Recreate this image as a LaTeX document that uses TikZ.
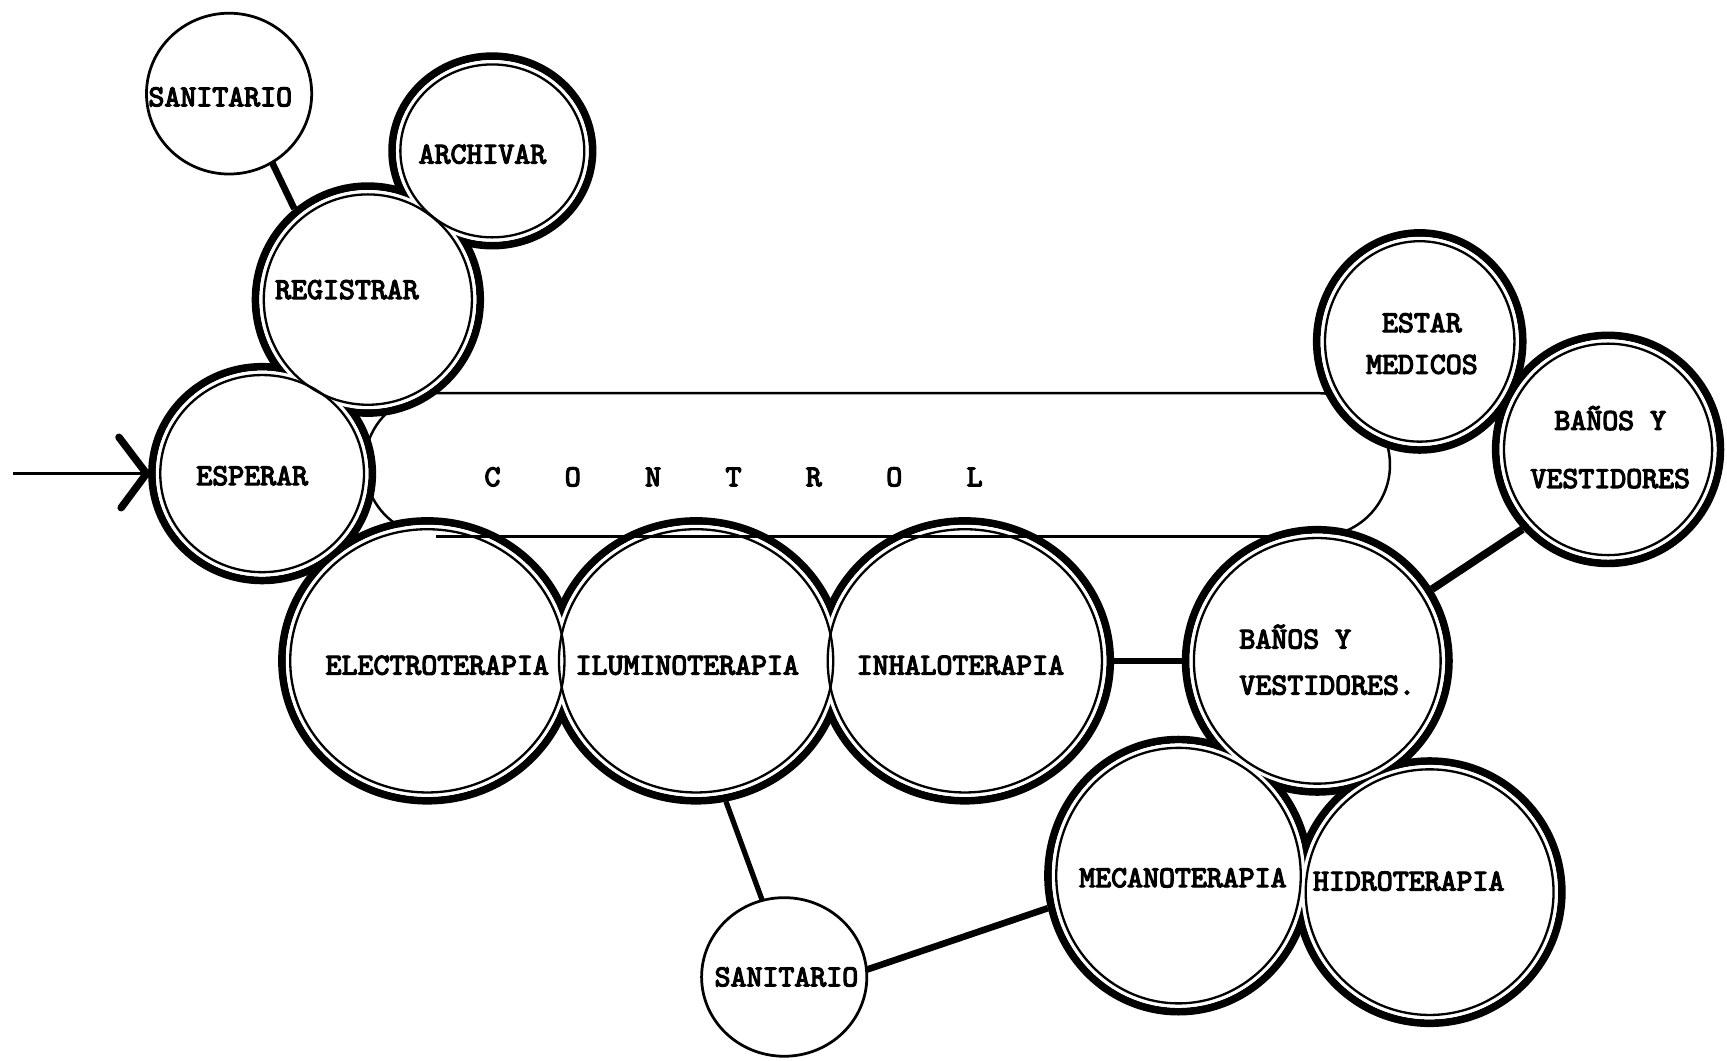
\documentclass[tikz,border=0pt]{standalone}
\usepackage{fontspec}
\usetikzlibrary{shapes.geometric,arrows.meta}
\newfontfamily\twfont{lmmono10-regular.otf}[FakeBold=4]
\begin{document}
\begin{tikzpicture}[x=0.02cm,y=-0.02cm,
  hub/.style={ellipse,draw=none,inner sep=0pt,outer sep=0pt},
  thickring/.style={line width=0.14cm},
  thinring/.style={line width=0.042cm},
  sanring/.style={ellipse,draw,fill=white,line width=0.05cm,inner sep=0pt,outer sep=0pt},
  link/.style={line width=0.12cm},
  ctrlline/.style={line width=0.045cm},
  barb/.style={line width=0.135cm,line cap=round,line join=round},
  lbl/.style={font={\twfont\fontsize{15.7}{22}\selectfont},inner sep=0pt,align=center},
]
\fill[white] (0,0) rectangle (1568,963);
\useasboundingbox (0,0) rectangle (1568,963);

% control band (behind the rooms)
\node[draw,ctrlline,rectangle,rounded corners=1.3cm,minimum width=931*0.02cm,
      minimum height=130*0.02cm,inner sep=0pt,outer sep=0pt] (ctrl) at (796.5,422) {};

% room nodes (outer edge of the heavy ring)
\foreach \n/\x/\y/\a/\b in {arch/447/137/91/86, reg/334/272/102/103, esp/238/430/100/97,
    elec/388/600/132/127, ilum/632/600/132/127, inha/876/600/132/127,
    banL/1196/600/119.5/119, meca/1070/795/118.5/123.5, hidr/1298/810/120/119,
    estar/1289/310/93.5/98.5, banU/1460/408/102/103.5}{
  \node[hub,minimum width={2*(\a+3.5)*0.02cm},minimum height={2*(\b+3.5)*0.02cm}] (\n) at (\x,\y) {};
}

% single-ring rooms
\node[sanring,minimum width=150*0.02cm,minimum height=146*0.02cm] (san1) at (208,85) {};
\node[sanring,minimum width=150*0.02cm,minimum height=144*0.02cm] (san2) at (712,887) {};

% connectors
\draw[link] (san1.-58) -- (reg.129);
\draw[link,line width=0.095cm] (ilum.-78) -- (san2.106);
\draw[link] (san2.5) -- (meca.-166);
\draw[link] (inha.east) -- (banL.west);
\draw[link,line width=0.14cm] (banU.-137) -- (banL.32);

% heavy outer rings, merged per cluster
\def\rooms{arch/91/86, reg/102/103, esp/100/97,
    elec/132/127, ilum/132/127, inha/132/127,
    banL/119.5/119, meca/118.5/123.5, hidr/120/119,
    estar/93.5/98.5, banU/102/103.5}
\foreach \n/\a/\b in \rooms{
  \draw[thickring] (\n.center) ellipse [x radius=\a, y radius=\b];
}
\foreach \n/\a/\b in \rooms{
  \pgfmathsetmacro\ai{\a-3.5}\pgfmathsetmacro\bi{\b-3.5}
  \fill[white] (\n.center) ellipse [x radius=\ai, y radius=\bi];
}
\foreach \n/\a/\b in \rooms{
  \pgfmathsetmacro\ai{\a-7.5}\pgfmathsetmacro\bi{\b-7.5}
  \draw[thinring] (\n.center) ellipse [x radius=\ai, y radius=\bi];
}

% lower edge of the control band, passing over the therapy rooms
\coordinate (cbL) at (396,487);
\coordinate (cbR) at (1148,487);
\draw[ctrlline] (cbL) -- (cbR);

% entry arrow
\coordinate (in) at (12,430);
\coordinate (tip) at ([xshift=-0.03cm]esp.west);
\draw[line width=0.06cm] (in) -- (tip);
\draw[barb] ([shift={(-25,-33)}]tip) -- (tip) -- ([shift={(-23,31)}]tip);

% labels
\node[lbl] (tsan1) at (200,88) {SANITARIO};
\node[lbl] (tarch) at (438,140) {ARCHIVAR};
\node[lbl] (treg) at (315,263) {REGISTRAR};
\node[lbl] (tesp) at (229,432) {ESPERAR};
\node[lbl] (tctrl) at (666,433) {C\hspace{1.17cm}O\hspace{1.17cm}N\hspace{1.17cm}T\hspace{1.17cm}R\hspace{1.17cm}O\hspace{1.17cm}L};
\node[lbl] (telec) at (397,604) {ELECTROTERAPIA};
\node[lbl] (tilum) at (624,604) {ILUMINOTERAPIA};
\node[lbl] (tinha) at (872,604) {INHALOTERAPIA};
\node[lbl,anchor=west,align=left,font={\twfont\fontsize{15.7}{23.8}\selectfont}] (tbanL) at (1125,599) {BAÑOS Y\\VESTIDORES.};
\node[lbl] (tmeca) at (1074,797) {MECANOTERAPIA};
\node[lbl] (thidr) at (1279,800) {HIDROTERAPIA};
\node[lbl] (tsan2) at (714,887) {SANITARIO};
\node[lbl,font={\twfont\fontsize{15.7}{21.5}\selectfont}] (testar) at (1291,312) {ESTAR\\MEDICOS};
\node[lbl,font={\twfont\fontsize{15.7}{30}\selectfont}] (tbanU) at (1462,406) {BAÑOS Y\\VESTIDORES};
\end{tikzpicture}
\end{document}
